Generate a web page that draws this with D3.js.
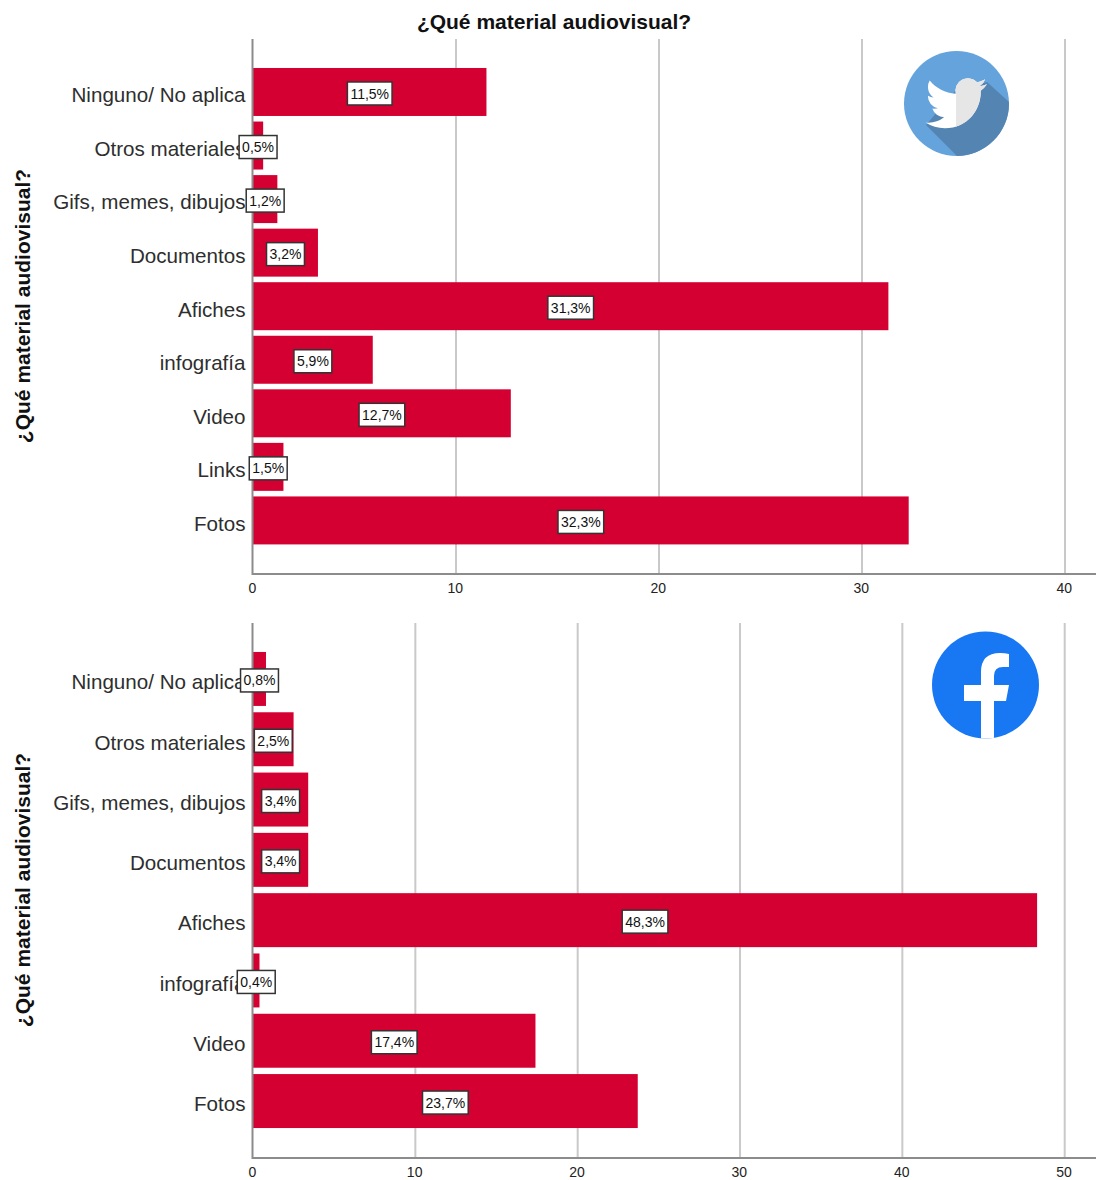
<!DOCTYPE html>
<html><head><meta charset="utf-8">
<script src="https://cdn.jsdelivr.net/npm/d3@7/dist/d3.min.js"></script>
<style>html,body{margin:0;padding:0;background:#fff}svg{display:block}text{font-family:"Liberation Sans",Arial,sans-serif}</style>
</head><body><div id="chart"></div>
<script>
const chartTitle = "¿Qué material audiovisual?";
const axisTitle = "¿Qué material audiovisual?";
const twitterCategories = ["Ninguno/ No aplica","Otros materiales","Gifs, memes, dibujos","Documentos","Afiches","infografía","Video","Links","Fotos"];
const twitterValues = [11.5,0.5,1.2,3.2,31.3,5.9,12.7,1.5,32.3];
const twitterTicks = [0,10,20,30,40];
const facebookCategories = ["Ninguno/ No aplica","Otros materiales","Gifs, memes, dibujos","Documentos","Afiches","infografía","Video","Fotos"];
const facebookValues = [0.8,2.5,3.4,3.4,48.3,0.4,17.4,23.7];
const facebookTicks = [0,10,20,30,40,50];

const svg = d3.select("#chart").append("svg").attr("width",1096).attr("height",1180);
const fmt = v => String(v.toFixed(1)).replace(".",",")+"%";

function panel(cfg){
  const x = d3.scaleLinear().domain([0,cfg.ticks[cfg.ticks.length-1]]).range([cfg.x0,cfg.xMax]);
  const y = d3.scaleBand().domain(cfg.cats).range([cfg.yb0,cfg.yb1]).paddingInner(cfg.pad).paddingOuter(cfg.pad/2);
  const g = svg.append("g");
  g.selectAll(".grid").data(cfg.ticks.slice(1)).join("line")
    .attr("x1",d=>x(d)).attr("x2",d=>x(d)).attr("y1",cfg.top).attr("y2",cfg.bottom)
    .attr("stroke","#c9c9c9").attr("stroke-width",2);
  const ay = g.append("g").attr("transform",`translate(${cfg.x0},0)`).call(d3.axisLeft(y).tickSize(0).tickPadding(7.5));
  ay.select(".domain").remove();
  ay.selectAll("text").attr("font-size",20.6).attr("fill","#2e2e2e").attr("font-family",'"Liberation Sans",Arial,sans-serif').attr("dy","0.5em");
  g.selectAll(".bar").data(cfg.vals).join("rect")
    .attr("x",x(0)).attr("y",(d,i)=>y(cfg.cats[i])).attr("width",d=>x(d)-x(0)).attr("height",y.bandwidth())
    .attr("fill","#d50032");
  const ax = g.append("g").attr("transform",`translate(-1.2,${cfg.bottom})`).call(d3.axisBottom(x).tickValues(cfg.ticks).tickSize(0).tickPadding(9).tickFormat(d3.format("d")));
  ax.select(".domain").remove();
  ax.selectAll("text").attr("font-size",14).attr("fill","#222").attr("font-family",'"Liberation Sans",Arial,sans-serif');
  g.append("line").attr("x1",cfg.x0).attr("x2",1096).attr("y1",cfg.bottom).attr("y2",cfg.bottom).attr("stroke","#8c8c8c").attr("stroke-width",2);
  g.append("line").attr("x1",cfg.x0-0.5).attr("x2",cfg.x0-0.5).attr("y1",cfg.top).attr("y2",cfg.bottom+1).attr("stroke","#8c8c8c").attr("stroke-width",2);
  const lab = g.selectAll(".lab").data(cfg.vals).join("g")
    .attr("transform",(d,i)=>`translate(${x(d/2)},${y(cfg.cats[i])+y.bandwidth()/2+1.5})`);
  lab.append("rect").attr("fill","#fff").attr("stroke","#333").attr("stroke-width",1.5);
  const t = lab.append("text").attr("text-anchor","middle").attr("dy","0.36em").attr("font-size",14).attr("fill","#111").text(fmt);
  t.each(function(){
    const w = this.getComputedTextLength()+6;
    d3.select(this.parentNode).select("rect").attr("x",-w/2).attr("y",-11.5).attr("width",w).attr("height",23);
  });
  g.append("text").attr("transform",`translate(30,${cfg.titleY}) rotate(-90)`).attr("text-anchor","middle")
    .attr("font-size",21).attr("font-weight","bold").attr("fill","#111").text(axisTitle);
}

panel({cats:twitterCategories,vals:twitterValues,ticks:twitterTicks,x0:253,xMax:1065,yb0:65.2,yb1:547.2,pad:0.104,top:39,bottom:574,titleY:306});
panel({cats:facebookCategories,vals:facebookValues,ticks:facebookTicks,x0:253,xMax:1064.7,yb0:648.8,yb1:1131.2,pad:0.105,top:623,bottom:1158,titleY:890});

svg.append("text").attr("x",554).attr("y",28.5).attr("text-anchor","middle").attr("font-size",21).attr("font-weight","bold").attr("fill","#111").text(chartTitle);

const defs = svg.append("defs");
defs.append("clipPath").attr("id","twc").append("circle").attr("cx",956.5).attr("cy",103.5).attr("r",52.5);
defs.append("clipPath").attr("id","twr").append("rect").attr("x",956).attr("y",60).attr("width",60).attr("height",90);
defs.append("clipPath").attr("id","fbc").append("circle").attr("cx",985.5).attr("cy",685).attr("r",53.5);
const birdPath = "M23.953 4.57a10 10 0 01-2.825.775 4.958 4.958 0 002.163-2.723c-.951.555-2.005.959-3.127 1.184a4.92 4.92 0 00-8.384 4.482C7.69 8.095 4.067 6.13 1.64 3.162a4.822 4.822 0 00-.666 2.475c0 1.71.87 3.213 2.188 4.096a4.904 4.904 0 01-2.228-.616v.06a4.923 4.923 0 003.946 4.827 4.996 4.996 0 01-2.212.085 4.936 4.936 0 004.604 3.417 9.867 9.867 0 01-6.102 2.105c-.39 0-.779-.023-1.17-.067a13.995 13.995 0 007.557 2.209c9.053 0 13.998-7.496 13.998-13.985 0-.21 0-.42-.015-.63A9.935 9.935 0 0024 4.59z";
const tw = svg.append("g");
tw.append("circle").attr("cx",956.5).attr("cy",103.5).attr("r",52.5).attr("fill","#65a3dc");
tw.append("path").attr("clip-path","url(#twc)").attr("fill","#5484b2").attr("d","M926 125L964 163L1020 163L1020 112L987 82L956 90Z");
const birdT = "translate(925.5,72.5) scale(2.56)";
tw.append("path").attr("transform",birdT).attr("d",birdPath).attr("fill","#fff");
tw.append("g").attr("clip-path","url(#twr)").append("path").attr("transform",birdT).attr("d",birdPath).attr("fill","#e6e6e6");

const fb = svg.append("g");
fb.append("circle").attr("cx",985.5).attr("cy",685).attr("r",53.5).attr("fill","#1877f2");
fb.append("path").attr("clip-path","url(#fbc)").attr("fill","#fff")
  .attr("d","M981 745V701H964V685H981V672Q981 653 1000 653Q1005 653 1009 654V667H1003Q994 667 994 676V685H1009L1006 701H994V745Z");
</script></body></html>
